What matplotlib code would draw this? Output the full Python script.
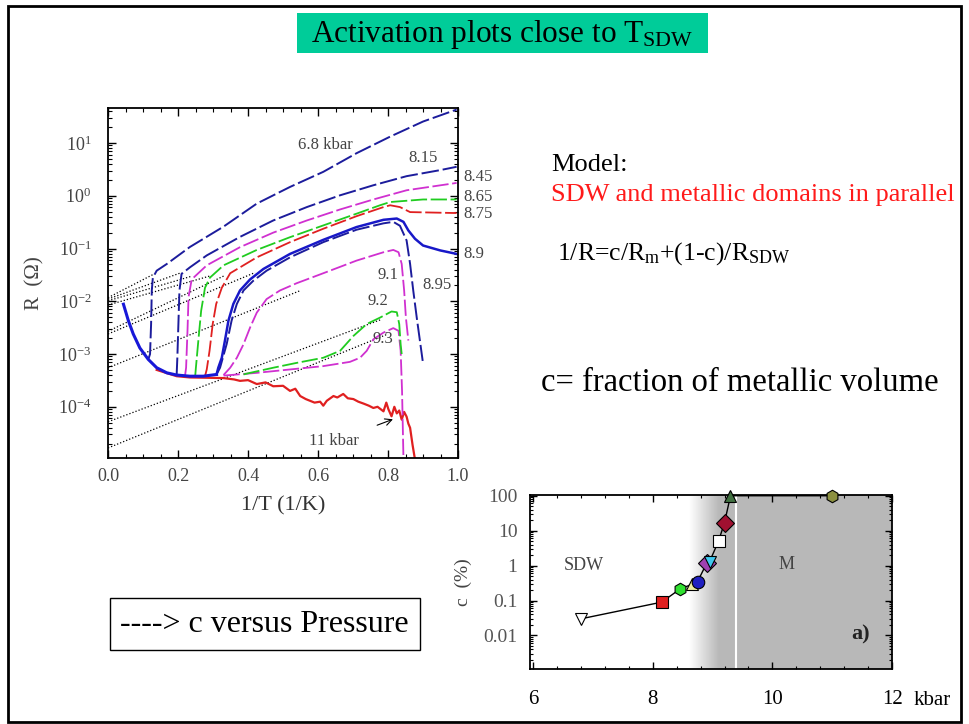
import matplotlib
matplotlib.use("Agg")
import matplotlib.pyplot as plt
from matplotlib.patches import Rectangle
from matplotlib.ticker import LogLocator, MultipleLocator, FixedLocator, NullFormatter, LogFormatterMathtext

plt.rcParams['font.family'] = ['Liberation Serif', 'DejaVu Serif']
plt.rcParams['mathtext.fontset'] = 'custom'
plt.rcParams['mathtext.rm'] = 'Liberation Serif'
plt.rcParams['mathtext.it'] = 'Liberation Serif:italic'
plt.rcParams['mathtext.bf'] = 'Liberation Serif:bold'

# --- R(1/T) curves, R in ohm ---
metal_x = [0.044, 0.058, 0.072, 0.091, 0.115, 0.139, 0.168, 0.196, 0.234, 0.272, 0.310]
metal_R = [8.8e-3, 4.3e-3, 2.4e-3, 1.3e-3, 7.9e-4, 5.5e-4, 4.4e-4, 4.0e-4, 3.8e-4, 3.8e-4, 4.1e-4]

x68 = [0.115, 0.12, 0.123, 0.125, 0.128, 0.139, 0.168, 0.234, 0.33, 0.425, 0.52, 0.615, 0.71, 0.806, 0.90, 0.996]
R68 = [7.9e-4, 1.0e-3, 3.7e-3, 1.6e-2, 2.8e-2, 3.8e-2, 5.1e-2, 0.107, 0.26, 0.71, 1.47, 2.84, 6.4, 13.2, 25.5, 43]

x815 = [0.196, 0.198, 0.201, 0.204, 0.21, 0.234, 0.282, 0.377, 0.472, 0.568, 0.663, 0.758, 0.853, 0.949, 0.996]
R815 = [4.0e-4, 8.5e-4, 3.7e-3, 1.6e-2, 3.3e-2, 4.4e-2, 7.4e-2, 0.166, 0.34, 0.61, 1.02, 1.58, 2.35, 3.06, 3.54]

x845 = [0.22, 0.223, 0.227, 0.230, 0.239, 0.282, 0.377, 0.472, 0.568, 0.663, 0.758, 0.853, 0.996]
R845 = [3.9e-4, 5.5e-4, 2.75e-3, 1.2e-2, 2.6e-2, 4.8e-2, 0.106, 0.2, 0.34, 0.55, 0.85, 1.27, 1.75]

x865 = [0.249, 0.251, 0.258, 0.266, 0.277, 0.291, 0.33, 0.425, 0.52, 0.615, 0.71, 0.777, 0.806, 0.90, 0.996]
R865 = [3.8e-4, 5.5e-4, 1.8e-3, 6.6e-3, 1.8e-2, 2.8e-2, 4.8e-2, 9.4e-2, 0.164, 0.274, 0.457, 0.66, 0.76, 0.85, 0.85]

x875 = [0.277, 0.282, 0.29, 0.299, 0.309, 0.325, 0.349, 0.425, 0.52, 0.615, 0.71, 0.787, 0.806, 0.834, 0.863, 0.996]
R875 = [3.8e-4, 5.1e-4, 1.15e-3, 3.7e-3, 8.9e-3, 1.8e-2, 3.4e-2, 6.8e-2, 0.132, 0.237, 0.41, 0.61, 0.66, 0.61, 0.49, 0.47]

x89 = [0.31, 0.315, 0.325, 0.334, 0.344, 0.358, 0.377, 0.406, 0.444, 0.52, 0.615, 0.71, 0.787, 0.825,
       0.844, 0.858, 0.877, 0.90, 0.949, 0.996]
R89 = [4.1e-4, 5.5e-4, 8.5e-4, 1.8e-3, 4.3e-3, 8.9e-3, 1.6e-2, 2.6e-2, 4.1e-2, 7.9e-2, 0.146, 0.255, 0.35, 0.37,
       0.32, 0.22, 0.153, 0.114, 0.092, 0.079]

x895 = [0.31, 0.32, 0.339, 0.353, 0.368, 0.387, 0.415, 0.453, 0.52, 0.615, 0.71, 0.787, 0.815, 0.834,
        0.853, 0.863, 0.872, 0.882, 0.891, 0.899]
R895 = [4.1e-4, 5.5e-4, 1.55e-3, 4.3e-3, 8.9e-3, 1.6e-2, 2.45e-2, 3.8e-2, 6.8e-2, 0.132, 0.227, 0.30, 0.32, 0.27,
        0.142, 0.051, 0.016, 4.9e-3, 1.8e-3, 7.4e-4]

x91 = [0.33, 0.349, 0.368, 0.387, 0.406, 0.425, 0.453, 0.491, 0.539, 0.615, 0.71, 0.787, 0.815, 0.83,
       0.839, 0.846, 0.851, 0.858]
R91 = [4.0e-4, 5.5e-4, 8.5e-4, 1.53e-3, 3.2e-3, 6.1e-3, 1.1e-2, 1.6e-2, 2.2e-2, 3.4e-2, 5.9e-2, 8.5e-2, 9.4e-2, 8.5e-2,
       5.1e-2, 1.6e-2, 4.9e-3, 1.8e-3]

x92 = [0.387, 0.406, 0.472, 0.539, 0.615, 0.663, 0.701, 0.739, 0.777, 0.81, 0.825, 0.832, 0.836, 0.839]
R92 = [4.1e-4, 4.4e-4, 5.5e-4, 6.8e-4, 8.5e-4, 1.15e-3, 2.2e-3, 3.7e-3, 4.9e-3, 6.4e-3, 6.2e-3, 3.7e-3, 1.53e-3, 1.0e-3]

x93 = [0.33, 0.425, 0.52, 0.615, 0.691, 0.72, 0.739, 0.758, 0.787, 0.815, 0.83, 0.836, 0.84, 0.842, 0.844]
R93 = [3.9e-4, 4.4e-4, 5.1e-4, 5.9e-4, 7.1e-4, 8.5e-4, 1.15e-3, 1.9e-3, 2.55e-3, 3.1e-3, 2.75e-3, 1.15e-3,
       2.0e-4, 4.6e-5, 1.07e-5]

x11 = [0.139, 0.196, 0.234, 0.282, 0.33, 0.36, 0.377, 0.40, 0.425, 0.45, 0.472, 0.50, 0.52, 0.535, 0.549,
       0.565, 0.577, 0.59, 0.606, 0.615, 0.625, 0.644, 0.655, 0.672, 0.685, 0.701, 0.715, 0.73, 0.745,
       0.758, 0.77, 0.787, 0.795, 0.801, 0.81, 0.818, 0.825, 0.832, 0.839, 0.846, 0.853, 0.858, 0.863,
       0.87, 0.877]
R11 = [5.0e-4, 3.8e-4, 3.6e-4, 3.55e-4, 3.5e-4, 3.3e-4, 3.1e-4, 3.2e-4, 2.7e-4, 2.9e-4, 2.45e-4, 2.5e-4, 2.0e-4,
       2.2e-4, 1.6e-4, 1.4e-4, 1.3e-4, 1.2e-4, 1.25e-4, 1.05e-4, 1.3e-4, 1.6e-4, 1.5e-4, 1.75e-4, 1.45e-4,
       1.4e-4, 1.25e-4, 1.15e-4, 1.05e-4, 9.5e-5, 1.0e-4, 8.2e-5, 1.2e-4, 9.0e-5, 6.6e-5, 1.0e-4, 7.5e-5,
       8.5e-5, 5.7e-5, 8.0e-5, 6.5e-5, 4.8e-5, 4.0e-5, 1.9e-5, 1.0e-5]

# activation fits: value at 1/T = 0 and end point
fit_R0 = [1.17e-2, 1.1e-2, 1.02e-2, 8.5e-3, 2.7e-3, 2.4e-3, 5.5e-4, 5.2e-5, 1.66e-5]
fit_x1 = [0.128, 0.21, 0.24, 0.29, 0.33, 0.42, 0.55, 0.78, 0.80]
fit_R1 = [3.2e-2, 3.5e-2, 3.0e-2, 3.0e-2, 3.0e-2, 3.5e-2, 1.6e-2, 4.5e-3, 2.4e-3]

# --- metallic fraction vs pressure ---
pressure = [6.8, 8.15, 8.45, 8.65, 8.75, 8.9, 8.95, 9.1, 9.2, 9.3, 11.0]
c_frac = [0.03, 0.09, 0.21, 0.29, 0.35, 1.15, 1.3, 5.0, 17, 100, 100]
c_marker = ['v', 's', 'h', '^', 'o', 'D', 'v', 's', 'D', '^', 'h']
c_color = ['white', '#e02020', '#30e030', '#f0f0a0', '#2020c0', '#a040b0', '#40c8f0', 'white',
           '#a01030', '#407040', '#8c9040']

navy = '#1c1c9c'
magenta = '#d030d0'
green = '#20cc20'
red = '#e02020'
txt = '#444444'

fig = plt.figure(figsize=(9.69, 7.24), dpi=100)

# slide frame
fig.patches.append(Rectangle((0.0083, 0.003), 0.9835, 0.989, transform=fig.transFigure,
                             fill=False, edgecolor='black', linewidth=2))

# title bar
fig.patches.append(Rectangle((0.3065, 0.9268), 0.4241, 0.0552, transform=fig.transFigure,
                             facecolor='#00cc99', edgecolor='none'))
fig.text(0.518, 0.953, r'Activation plots close to T$_{\mathrm{SDW}}$', fontsize=22.5,
         ha='center', va='center')

# ---------------- main panel ----------------
ax = fig.add_axes([0.1115, 0.3674, 0.3612, 0.4834])
ax.set_yscale('log')
ax.set_xlim(0, 1.0)
ax.set_ylim(1.07e-5, 46)

dash = (0, (9, 2))
for x0, r0, x1, r1 in zip([0] * len(fit_R0), fit_R0, fit_x1, fit_R1):
    ax.plot([x0, x1], [r0, r1], color='black', lw=0.9, ls=(0, (1, 1.6)))

ax.plot(x11, R11, color=red, lw=1.6)
ax.plot(x93, R93, color=magenta, lw=1.3, ls=dash)
ax.plot(x92, R92, color=green, lw=1.3, ls=dash)
ax.plot(x91, R91, color=magenta, lw=1.3, ls=dash)
ax.plot(x895, R895, color=navy, lw=1.4, ls=dash)
ax.plot(x89, R89, color='#1818c8', lw=1.8)
ax.plot(x875, R875, color=red, lw=1.3, ls=dash)
ax.plot(x865, R865, color=green, lw=1.3, ls=dash)
ax.plot(x845, R845, color=magenta, lw=1.3, ls=dash)
ax.plot(x815, R815, color=navy, lw=1.4, ls=dash)
ax.plot(x68, R68, color=navy, lw=1.4, ls=dash)
ax.plot(metal_x, metal_R, color='#1818d8', lw=2.2)

# curve labels
ax.text(0.62, 9.0, '6.8 kbar', fontsize=12, color=txt, ha='center', va='center')
ax.text(0.90, 5.2, '8.15', fontsize=12, color=txt, ha='center', va='center')
for lab, rv in zip(['8.45', '8.65', '8.75', '8.9'], [2.25, 0.94, 0.46, 0.078]):
    ax.text(1.015, rv, lab, fontsize=12, color=txt, ha='left', va='center', clip_on=False)
ax.text(0.94, 0.02, '8.95', fontsize=12, color=txt, ha='center', va='center')
ax.text(0.80, 0.031, '9.1', fontsize=12, color=txt, ha='center', va='center')
ax.text(0.771, 0.0102, '9.2', fontsize=12, color=txt, ha='center', va='center')
ax.text(0.786, 1.94e-3, '9.3', fontsize=12, color=txt, ha='center', va='center')
ax.annotate('11 kbar', xy=(0.814, 5.8e-5), xytext=(0.645, 2.2e-5), fontsize=12, color=txt,
            ha='center', va='center',
            arrowprops=dict(arrowstyle='->', color='black', lw=0.8, shrinkA=12, shrinkB=0))

ax.xaxis.set_major_locator(MultipleLocator(0.2))
ax.xaxis.set_minor_locator(MultipleLocator(0.05))
ax.xaxis.set_major_formatter(plt.FuncFormatter(lambda v, p: f'{v:.1f}'))
ax.yaxis.set_major_locator(LogLocator(base=10, numticks=12))
ax.yaxis.set_minor_locator(LogLocator(base=10, subs=range(2, 10), numticks=12))
ax.yaxis.set_major_formatter(LogFormatterMathtext())
ax.yaxis.set_minor_formatter(NullFormatter())
ax.tick_params(which='both', direction='in', top=True, right=True, colors='black',
               labelcolor=txt, labelsize=13)
ax.tick_params(which='major', length=6, width=1)
ax.tick_params(which='minor', length=3, width=0.8)
ax.tick_params(axis='x', pad=7)
ax.tick_params(axis='y', pad=12)
for s in ax.spines.values():
    s.set_linewidth(1.3)
ax.set_xlabel('1/T (1/K)', fontsize=16, color='#333333', labelpad=8)
ax.set_ylabel('R  (\u03a9)', fontsize=15, color=txt, labelpad=10)

# ---------------- text on the right ----------------
fig.text(0.5686, 0.772, 'Model:', fontsize=19, ha='left', va='center')
fig.text(0.5686, 0.731, 'SDW and metallic domains in parallel', fontsize=19, color='#ff1a1a',
         ha='left', va='center')
fig.text(0.5748, 0.650, r'1/R=c/R$_{\mathrm{m}}$+(1-c)/R$_{\mathrm{SDW}}$', fontsize=18.5,
         ha='left', va='center')
fig.text(0.5583, 0.471, 'c= fraction of metallic volume', fontsize=23.5, ha='left', va='center')

fig.patches.append(Rectangle((0.1135, 0.1022), 0.32, 0.0718, transform=fig.transFigure,
                             fill=False, edgecolor='black', linewidth=1))
fig.text(0.1238, 0.1381, '----> c versus Pressure', fontsize=23, ha='left', va='center')

# ---------------- inset: c vs pressure ----------------
ax2 = fig.add_axes([0.547, 0.076, 0.3736, 0.2403])
ax2.set_yscale('log')
ax2.set_xlim(5.95, 12.0)
ax2.set_ylim(1.1e-3, 105)

n_steps = 30
g0, g1 = 8.6, 9.1
for i in range(n_steps):
    lev = 1.0 - (1.0 - 0.72) * (i + 0.5) / n_steps
    ax2.axvspan(g0 + (g1 - g0) * i / n_steps, g0 + (g1 - g0) * (i + 1) / n_steps,
                color=str(lev), lw=0, zorder=0)
ax2.axvspan(g1, 12.0, color='0.72', lw=0, zorder=0)
ax2.axvline(9.4, color='white', lw=1.5, zorder=1)

ax2.plot(pressure, c_frac, color='black', lw=1.0, zorder=2, clip_on=False)
for p, cv, m, col in zip(pressure, c_frac, c_marker, c_color):
    ax2.plot(p, cv, marker=m, ms=9, mfc=col, mec='black', mew=0.8, ls='none', zorder=3, clip_on=False)

ax2.text(6.85, 1.0, 'SDW', fontsize=13, color=txt, ha='center', va='center')
ax2.text(10.23, 1.1, 'M', fontsize=13, color=txt, ha='center', va='center')
ax2.text(11.47, 0.011, 'a)', fontsize=16, fontweight='bold', color='#222222', ha='center', va='center')

ax2.xaxis.set_major_locator(FixedLocator([6, 8, 10, 12]))
ax2.xaxis.set_minor_locator(MultipleLocator(0.4))
ax2.yaxis.set_major_locator(FixedLocator([0.01, 0.1, 1, 10, 100]))
ax2.yaxis.set_minor_locator(LogLocator(base=10, subs=range(2, 10), numticks=12))
ax2.yaxis.set_minor_formatter(NullFormatter())
ax2.set_yticklabels(['0.01', '0.1', '1', '10', '100'])
ax2.tick_params(which='both', direction='in', top=True, right=True)
ax2.tick_params(which='major', length=5, width=1)
ax2.tick_params(which='minor', length=2.5, width=0.8)
ax2.tick_params(axis='x', labelsize=15, pad=15)
ax2.tick_params(axis='y', labelsize=14, labelcolor='#555555', pad=9)
for s in ax2.spines.values():
    s.set_linewidth(1.3)
ax2.set_ylabel('c  (%)', fontsize=14, color=txt, labelpad=8)
fig.text(0.9615, 0.033, 'kbar', fontsize=15, ha='center', va='center')

fig.savefig('out.png', dpi=100)
